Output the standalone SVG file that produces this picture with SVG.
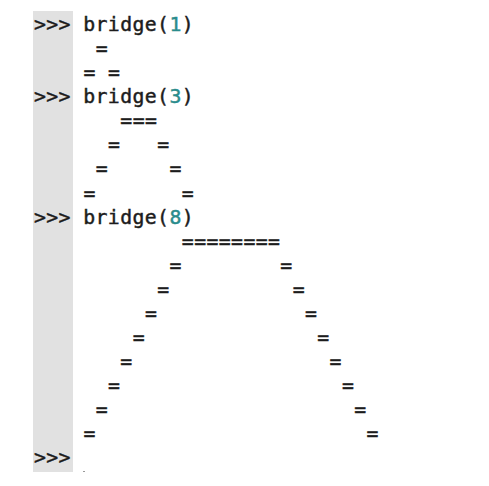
<svg xmlns="http://www.w3.org/2000/svg" width="489" height="486" viewBox="0 0 489 486">
<style>
  text { font-family: "DejaVu Sans Mono", "Liberation Mono", monospace; font-size: 19.8px; letter-spacing: 0.4px; fill: #1c1c1c; stroke: #1c1c1c; stroke-width: 0.45px; white-space: pre; }
  .num { fill: #2a8c8c; stroke: #2a8c8c; }
</style>
<rect width="489" height="486" fill="#ffffff"/>
<rect id="gutter" x="33" y="11" width="40" height="461" fill="#e1e1e1"/>
<g id="call1">
  <text x="34" y="31" xml:space="preserve">&gt;&gt;&gt; bridge(<tspan class="num">1</tspan>)</text>
  <text x="83.4" y="55.1" xml:space="preserve"> =</text>
  <text x="83.4" y="79.1" xml:space="preserve">= =</text>
</g>
<g id="call3">
  <text x="34" y="103.2" xml:space="preserve">&gt;&gt;&gt; bridge(<tspan class="num">3</tspan>)</text>
  <text x="83.4" y="127.3" xml:space="preserve">   ===</text>
  <text x="83.4" y="151.4" xml:space="preserve">  =   =</text>
  <text x="83.4" y="175.4" xml:space="preserve"> =     =</text>
  <text x="83.4" y="199.5" xml:space="preserve">=       =</text>
</g>
<g id="call8">
  <text x="34" y="223.6" xml:space="preserve">&gt;&gt;&gt; bridge(<tspan class="num">8</tspan>)</text>
  <text x="83.4" y="247.7" xml:space="preserve">        ========</text>
  <text x="83.4" y="271.8" xml:space="preserve">       =        =</text>
  <text x="83.4" y="295.8" xml:space="preserve">      =          =</text>
  <text x="83.4" y="319.9" xml:space="preserve">     =            =</text>
  <text x="83.4" y="344" xml:space="preserve">    =              =</text>
  <text x="83.4" y="368.1" xml:space="preserve">   =                =</text>
  <text x="83.4" y="392.2" xml:space="preserve">  =                  =</text>
  <text x="83.4" y="416.2" xml:space="preserve"> =                    =</text>
  <text x="83.4" y="440.3" xml:space="preserve">=                      =</text>
</g>
<g id="prompt">
  <text x="34" y="464.4" xml:space="preserve">&gt;&gt;&gt;</text>
  <rect x="83" y="471" width="2" height="1" fill="#999999"/>
</g>
</svg>
